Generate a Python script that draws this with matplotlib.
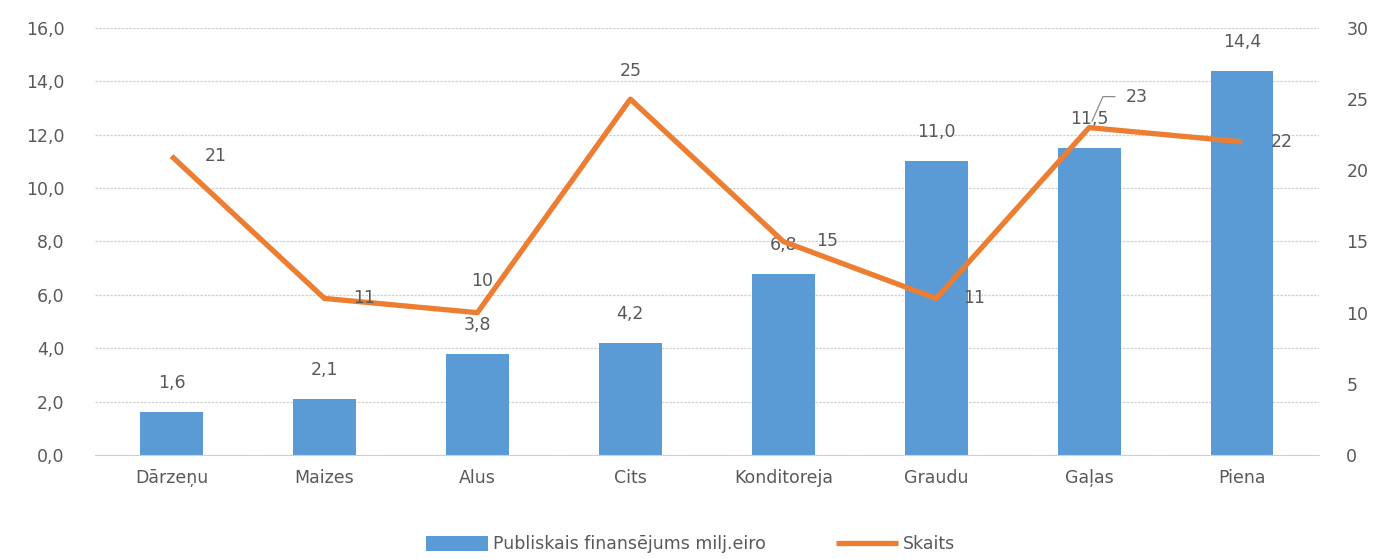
import numpy as np
import matplotlib.pyplot as plt
from matplotlib.ticker import FuncFormatter, MultipleLocator

# Dati
kategorijas = ["Dārzeņu", "Maizes", "Alus", "Cits", "Konditoreja", "Graudu", "Gaļas", "Piena"]
finansejums = [1.6, 2.1, 3.8, 4.2, 6.8, 11.0, 11.5, 14.4]
skaits = [21, 11, 10, 25, 15, 11, 23, 22]

# novietojums skaita etiķetēm (pikseļos no punkta)
skaits_offset = [(44, 0), (40, 0), (5, 32), (0, 28), (44, 0), (38, 0), (37, 31), (40, 0)]

gray = "#595959"
blue = "#5B9BD5"
orange = "#ED7D31"
plt.rcParams['font.family'] = ['DejaVu Sans']

fig = plt.figure(figsize=(13.81, 5.59), dpi=100)
ax = fig.add_axes([0.0688, 0.186, 0.886, 0.764])
ax2 = ax.twinx()

x = np.arange(len(kategorijas))
bars = ax.bar(x, finansejums, width=0.41, color=blue, zorder=2,
              label="Publiskais finansējums milj.eiro")
ax.set_xlim(-0.5, len(kategorijas) - 0.5)
ax.set_ylim(0, 16)
ax.yaxis.set_major_locator(MultipleLocator(2))
ax.yaxis.set_major_formatter(FuncFormatter(lambda v, p: f"{v:.1f}".replace(".", ",")))
ax.grid(axis="y", color="#d0d0d0", linestyle=(0, (2, 1)), linewidth=0.9, zorder=0)
ax.set_xticks(x)
ax.set_xticklabels(kategorijas)
ax.tick_params(axis="both", length=0, colors=gray, labelsize=12.5, pad=10)
ax.tick_params(axis="y", pad=22)
for s in ["top", "right", "left"]:
    ax.spines[s].set_visible(False)
    ax2.spines[s].set_visible(False)
ax2.spines["bottom"].set_visible(False)
ax.spines["bottom"].set_color("#d0d0d0")

for xi, v in zip(x, finansejums):
    ax.annotate(f"{v:.1f}".replace(".", ","), (xi, v), xytext=(0, 29),
                textcoords="offset pixels", ha="center", va="center",
                color=gray, fontsize=12.5, zorder=5)

line, = ax2.plot(x, skaits, color=orange, linewidth=3.8, zorder=3, label="Skaits",
                 solid_capstyle="butt")
ax2.set_ylim(0, 30)
ax2.yaxis.set_major_locator(MultipleLocator(5))
ax2.tick_params(axis="y", length=0, colors=gray, labelsize=12.5, pad=20)

for xi, v, off in zip(x, skaits, skaits_offset):
    if xi == 6:
        ax2.annotate(str(v), (xi, v), xytext=off, textcoords="offset pixels",
                     ha="left", va="center", color=gray, fontsize=12.5,
                     arrowprops=dict(arrowstyle="-", color="#8c8c8c", lw=0.9,
                                     connectionstyle="angle,angleA=0,angleB=66,rad=0",
                                     shrinkA=6, shrinkB=5))
    else:
        ax2.annotate(str(v), (xi, v), xytext=off, textcoords="offset pixels",
                     ha="center", va="center", color=gray, fontsize=12.5)

fig.legend(handles=[bars, line], loc="lower center", bbox_to_anchor=(0.5, -0.018),
           ncol=2, frameon=False, fontsize=12.5, labelcolor=gray,
           handlelength=3.6, handleheight=0.9, columnspacing=4.0, handletextpad=0.3)

fig.savefig("out.png", dpi=100)
